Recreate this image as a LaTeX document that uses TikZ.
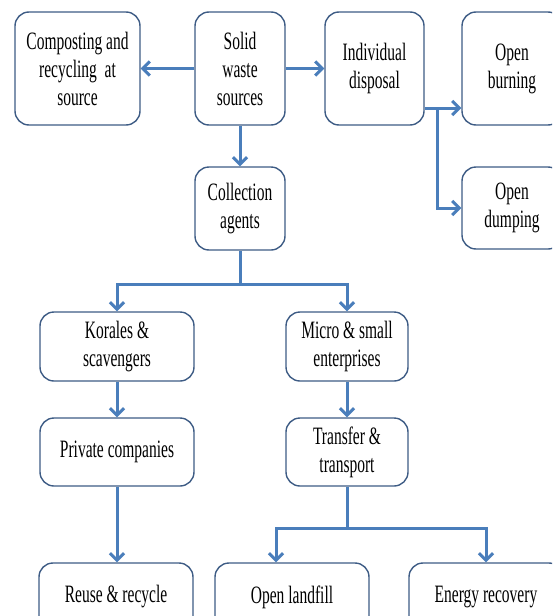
\documentclass[tikz,border=0pt]{standalone}
\usepackage{fontspec}
\newfontfamily\cfont[FakeStretch=0.62]{Liberation Serif}
\usetikzlibrary{arrows.meta}
\definecolor{boxline}{HTML}{3E5C85}
\definecolor{arrowc}{HTML}{4A7EBB}
\begin{document}
\begin{tikzpicture}[x=1pt,y=-1pt,
  box/.style={draw=boxline, line width=1.4pt, rounded corners=14pt, fill=white,
    align=center, inner sep=0pt, font=\cfont\fontsize{25}{28}\selectfont},
  arr/.style={draw=arrowc, line width=3pt, -{Straight Barb[length=7pt,width=14pt,line width=3pt]}},
  ln/.style={draw=arrowc, line width=3pt}]
\useasboundingbox (0,0) rectangle (552,616);
\clip (0,0) rectangle (552,616);
% boxes
\node[box, minimum width=125pt, minimum height=113pt] (comp) at (77.5,68.5) {Composting and\\recycling\ \ at\\source};
\node[box, minimum width=90pt, minimum height=113pt] (solid) at (240,68.5) {Solid\\waste\\sources};
\node[box, minimum width=99pt, minimum height=113pt] (indiv) at (374.5,68.5) {Individual\\disposal};
\node[box, minimum width=100pt, minimum height=113pt] (burn) at (512,68.5) {Open\\burning};
\node[box, minimum width=100pt, minimum height=82pt] (dump) at (512,208) {Open\\dumping};
\node[box, minimum width=90pt, minimum height=83pt] (coll) at (240,208.5) {Collection\\agents};
\node[box, minimum width=154pt, minimum height=69pt] (kor) at (117,346.5) {Korales \&\\scavengers};
\node[box, minimum width=122pt, minimum height=69pt] (micro) at (347,346.5) {Micro \& small\\enterprises};
\node[box, minimum width=154pt, minimum height=68pt] (priv) at (117,452) {Private companies};
\node[box, minimum width=122pt, minimum height=68pt] (trans) at (347,452) {Transfer \&\\transport};
\node[box, minimum width=154pt, minimum height=68pt] (reuse) at (116,597) {Reuse \& recycle};
\node[box, minimum width=154pt, minimum height=68pt] (land) at (292,597) {Open landfill};
\node[box, minimum width=154pt, minimum height=68pt] (energy) at (486,597) {Energy recovery};
% coordinates
\coordinate (j1) at (437,108);
\coordinate (b1) at (240,284);
\coordinate (b2) at (347,528);
% connectors
\draw[arr] (solid.west) -- (comp.east);
\draw[arr] (solid.east) -- (indiv.east -| indiv.west);
\draw[arr] (indiv.east |- j1) -- (burn.west |- j1);
\draw[arr] (j1) |- (dump.west);
\draw[arr] (solid.south) -- (coll.north);
\draw[ln] (coll.south) -- (b1);
\draw[arr] (b1) -| (kor.north);
\draw[arr] (b1) -| (micro.north);
\draw[arr] (kor.south) -- (priv.north);
\draw[arr] (micro.south) -- (trans.north);
\draw[arr] (priv.south) -- (priv.south |- reuse.north);
\draw[ln] (trans.south) -- (b2);
\draw[arr] (b2) -| ([xshift=-16pt]land.north);
\draw[arr] (b2) -| (energy.north);
\end{tikzpicture}
\end{document}
